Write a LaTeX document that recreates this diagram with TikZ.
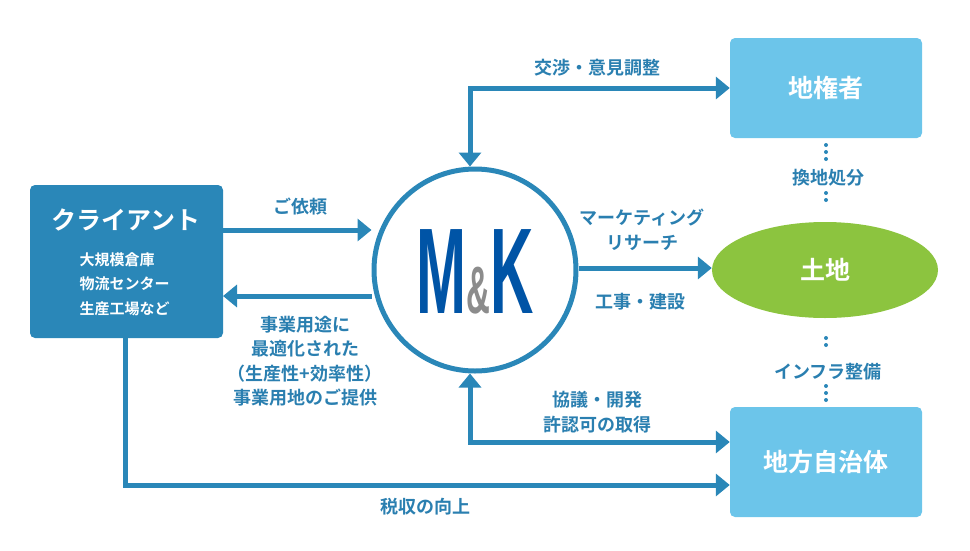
\documentclass[tikz,border=0pt]{standalone}
\usepackage{fontspec}
\setmainfont{Noto Sans CJK JP Bold}
\newfontfamily\logofont{Liberation Sans}
\usetikzlibrary{arrows.meta,shapes.geometric}
\definecolor{mk}{HTML}{2A87B8}
\definecolor{lb}{HTML}{6CC5EA}
\definecolor{gr}{HTML}{8CC43F}
\definecolor{lbl}{HTML}{2A7FB0}
\definecolor{logob}{HTML}{0054A6}
\tikzset{
 conn/.style={draw=mk,line width=5pt,-{Triangle[length=14pt,width=22pt]}},
 both/.style={conn,{Triangle[length=14pt,width=22pt]}-{Triangle[length=14pt,width=22pt]}},
 lab/.style={text=lbl,font=\fontsize{18}{24.5}\selectfont,align=center},
 boxl/.style={fill=lb,rounded corners=5pt,minimum width=192pt,text=white,font=\fontsize{25}{28}\selectfont},
 dots/.style={draw=mk,line width=4pt,dash pattern=on 0pt off 7pt,line cap=round}
}
\begin{document}
\begin{tikzpicture}[x=1pt,y=-1pt]
\useasboundingbox (0,0) rectangle (970,550);
\fill[mk,rounded corners=5pt] (30,185) rectangle (223,338);
\node[text=white,font=\fontsize{25}{27}\selectfont] (cl) at (126,220) {クライアント};
\node[text=white,font=\fontsize{15}{24.5}\selectfont,align=left,anchor=north west] (cls) at (76,249) {大規模倉庫\\物流センター\\生産工場など};
\coordinate (clR1) at (223,230); \coordinate (clR2) at (223,296); \coordinate (clB) at (125,338);
\node[boxl,minimum height=100pt] (ch) at (826,88) {地権者};
\node[boxl,minimum height=110pt] (jt) at (826,462) {地方自治体};
\node[ellipse,fill=gr,minimum width=226pt,minimum height=96pt,text=white,font=\fontsize{25}{28}\selectfont] (td) at (825,270) {土地};
\node[circle,draw=mk,line width=5pt,minimum size=202pt,fill=white] (mk) at (475,270) {};
\node[font=\logofont\bfseries\fontsize{100}{100}\selectfont,text=logob,xscale=0.6,yscale=1.22] (logo) at (475,272) {M{\color{gray!90}\fontsize{55}{55}\selectfont\&}K};
\draw[conn] (clR1) -- (mk.west |- clR1);
\draw[conn] (mk.west |- clR2) -- (clR2);
\draw[conn] (mk.east |- 0,268) -- (td.west |- 0,268);
\draw[both] (ch.west) -- (470,88) -- (mk.north -| 470,0);
\draw[both] (mk.south -| 470,0) -- (470,442) -- (jt.west |- 0,442);
\draw[conn] (clB) -- (125,485) -- (jt.west |- 0,485);
\draw[dots] (826,145) -- (826,162); \draw[dots] (826,193) -- (826,207);
\draw[dots] (826,338) -- (826,352); \draw[dots] (826,386) -- (826,402);
\node[lab] (l1) at (300,207) {ご依頼};
\node[lab] (l2) at (305,361) {事業用途に\\最適化された\\（生産性+効率性）\\事業用地のご提供};
\node[lab] (l3) at (642,230) {マーケティング\\リサーチ};
\node[lab] (l4) at (640,302) {工事・建設};
\node[lab] (l5) at (597,68) {交渉・意見調整};
\node[lab] (l6) at (597,412) {協議・開発\\許認可の取得};
\node[lab] (l7) at (425,507) {税収の向上};
\node[lab] (l8) at (828,178) {換地処分};
\node[lab] (l9) at (828,372) {インフラ整備};
\end{tikzpicture}
\end{document}
